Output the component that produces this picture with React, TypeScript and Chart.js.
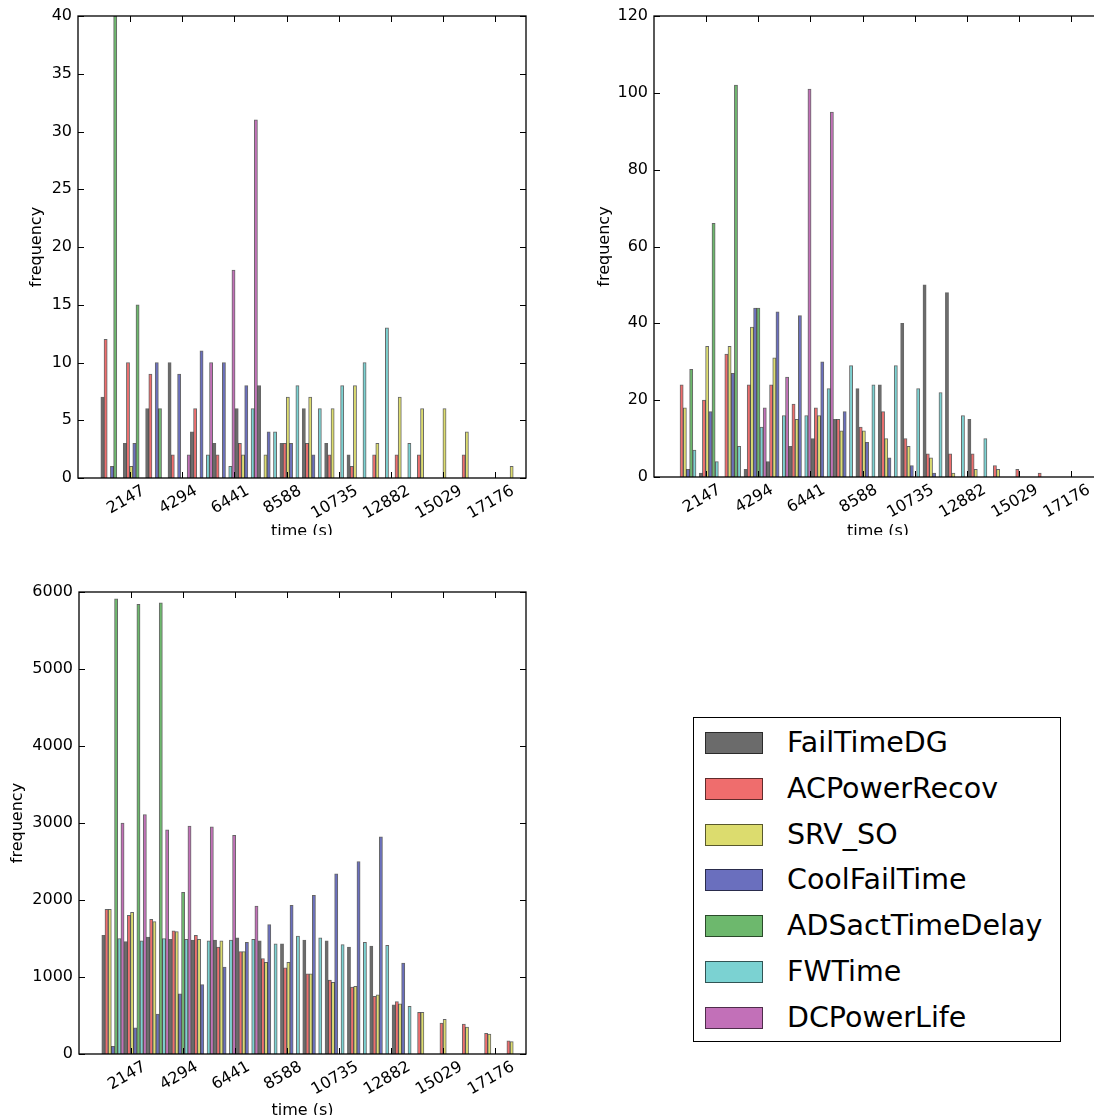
import React, { useEffect, useRef } from "react";
import { Chart, registerables } from "chart.js";

Chart.register(...registerables);

// ---------------- data ----------------
const SERIES_NAMES = [
  "FailTimeDG",
  "ACPowerRecov",
  "SRV_SO",
  "CoolFailTime",
  "ADSactTimeDelay",
  "FWTime",
  "DCPowerLife",
];

const SERIES_COLORS = ["#6b6b6b", "#ef6d6d", "#dcdc6e", "#6a6fbe", "#6db86d", "#7bd2d2", "#c270b8"];

// histogram bin centres (seconds)
const BIN_CENTERS = [
  1401, 2322, 3244, 4166, 5087, 6009, 6930, 7852, 8774, 9695, 10617, 11538, 12460, 13382, 14303, 15225,
  16146, 17068, 17990,
];

const X_TICKS = [2147, 4294, 6441, 8588, 10735, 12882, 15029, 17176];
const X_MAX = 18450;

// panel 1 (top-left)
const P1_FailTimeDG = [7, 3, 6, 10, 4, 3, 6, 8, 3, 6, 3, 2, 0, 0, 0, 0, 0, 0, 0];
const P1_ACPowerRecov = [12, 10, 9, 2, 6, 2, 3, 0, 3, 3, 2, 1, 2, 2, 2, 0, 2, 0, 0];
const P1_SRV_SO = [0, 1, 0, 0, 0, 0, 2, 2, 7, 7, 6, 8, 3, 7, 6, 6, 4, 0, 1];
const P1_CoolFailTime = [1, 3, 10, 9, 11, 10, 8, 4, 3, 2, 0, 0, 0, 0, 0, 0, 0, 0, 0];
const P1_ADSactTimeDelay = [40, 15, 6, 0, 0, 0, 0, 0, 0, 0, 0, 0, 0, 0, 0, 0, 0, 0, 0];
const P1_FWTime = [0, 0, 0, 0, 2, 1, 6, 4, 8, 6, 8, 10, 13, 3, 0, 0, 0, 0, 0];
const P1_DCPowerLife = [0, 0, 0, 2, 10, 18, 31, 0, 0, 0, 0, 0, 0, 0, 0, 0, 0, 0, 0];

// panel 2 (top-right)
const P2_FailTimeDG = [0, 1, 0, 2, 4, 8, 10, 15, 23, 24, 40, 50, 48, 15, 0, 0, 0, 0, 0];
const P2_ACPowerRecov = [24, 20, 32, 24, 24, 19, 18, 15, 13, 17, 10, 6, 6, 6, 3, 2, 1, 0, 0];
const P2_SRV_SO = [18, 34, 34, 39, 31, 15, 16, 12, 12, 10, 8, 5, 1, 2, 2, 0, 0, 0, 0];
const P2_CoolFailTime = [2, 17, 27, 44, 43, 42, 30, 17, 9, 5, 3, 1, 0, 0, 0, 0, 0, 0, 0];
const P2_ADSactTimeDelay = [28, 66, 102, 44, 0, 0, 0, 0, 0, 0, 0, 0, 0, 0, 0, 0, 0, 0, 0];
const P2_FWTime = [7, 4, 8, 13, 16, 16, 23, 29, 24, 29, 23, 22, 16, 10, 0, 0, 0, 0, 0];
const P2_DCPowerLife = [0, 0, 0, 18, 26, 101, 95, 0, 0, 0, 0, 0, 0, 0, 0, 0, 0, 0, 0];

// panel 3 (bottom-left)
const P3_FailTimeDG = [1540, 1460, 1520, 1490, 1480, 1480, 1510, 1470, 1430, 1480, 1470, 1390, 1400, 640, 0, 0, 0, 0, 0];
const P3_ACPowerRecov = [1880, 1800, 1750, 1600, 1540, 1390, 1330, 1240, 1120, 1040, 960, 870, 750, 680, 540, 400, 390, 270, 170];
const P3_SRV_SO = [1880, 1840, 1720, 1590, 1490, 1470, 1330, 1190, 1190, 1040, 930, 880, 770, 650, 540, 450, 350, 260, 160];
const P3_CoolFailTime = [100, 340, 520, 780, 900, 1130, 1450, 1680, 1930, 2060, 2340, 2500, 2820, 1180, 0, 0, 0, 0, 0];
const P3_ADSactTimeDelay = [5910, 5840, 5860, 2100, 0, 0, 0, 0, 0, 0, 0, 0, 0, 0, 0, 0, 0, 0, 0];
const P3_FWTime = [1500, 1470, 1500, 1490, 1470, 1480, 1490, 1430, 1530, 1510, 1420, 1450, 1410, 620, 0, 0, 0, 0, 0];
const P3_DCPowerLife = [3000, 3110, 2910, 2960, 2950, 2840, 1920, 0, 0, 0, 0, 0, 0, 0, 0, 0, 0, 0, 0];

const PANEL1 = [P1_FailTimeDG, P1_ACPowerRecov, P1_SRV_SO, P1_CoolFailTime, P1_ADSactTimeDelay, P1_FWTime, P1_DCPowerLife];
const PANEL2 = [P2_FailTimeDG, P2_ACPowerRecov, P2_SRV_SO, P2_CoolFailTime, P2_ADSactTimeDelay, P2_FWTime, P2_DCPowerLife];
const PANEL3 = [P3_FailTimeDG, P3_ACPowerRecov, P3_SRV_SO, P3_CoolFailTime, P3_ADSactTimeDelay, P3_FWTime, P3_DCPowerLife];

const FONT = "DejaVu Sans";

// ---------------- drawing helpers ----------------
const framePlugin = {
  id: "mplFrame",
  afterDraw(chart: any) {
    const { ctx, chartArea: a, scales } = chart;
    const xs = scales.x;
    const ys = scales.y;
    const TL = 6;
    ctx.save();
    ctx.strokeStyle = "#000";
    ctx.lineWidth = 1;
    const line = (x1: number, y1: number, x2: number, y2: number) => {
      ctx.beginPath();
      ctx.moveTo(x1, y1);
      ctx.lineTo(x2, y2);
      ctx.stroke();
    };
    xs.ticks.forEach((t: any) => {
      const px = Math.round(xs.getPixelForValue(t.value)) + 0.5;
      line(px, a.bottom, px, a.bottom - TL);
      line(px, a.top, px, a.top + TL);
    });
    ys.ticks.forEach((t: any) => {
      const py = Math.round(ys.getPixelForValue(t.value)) + 0.5;
      line(a.left, py, a.left + TL, py);
      line(a.right, py, a.right - TL, py);
    });
    ctx.lineWidth = 1.3;
    ctx.strokeRect(a.left, a.top, a.right - a.left, a.bottom - a.top);

    // rotated x tick labels (rotation=30, box centred under the tick)
    ctx.font = `16px "${FONT}"`;
    ctx.fillStyle = "#000";
    const rot = Math.PI / 6;
    xs.ticks.forEach((t: any) => {
      const label = String(t.value);
      const px = xs.getPixelForValue(t.value);
      const w = ctx.measureText(label).width;
      const h = 18;
      const H = w * Math.sin(rot) + h * Math.cos(rot);
      ctx.save();
      ctx.translate(px - 4, a.bottom + 4 + H / 2);
      ctx.rotate(-rot);
      ctx.textAlign = "center";
      ctx.textBaseline = "middle";
      ctx.fillText(label, 0, 0);
      ctx.restore();
    });
    ctx.restore();
  },
};

type PanelProps = {
  values: number[][];
  width: number;
  height: number;
  area: { left: number; top: number; right: number; bottom: number };
  yMax: number;
  yStep: number;
  yTitlePad: number;
  xTitlePad: number;
};

function HistPanel(p: PanelProps) {
  const ref = useRef<HTMLCanvasElement | null>(null);
  useEffect(() => {
    if (!ref.current) return;
    const chart = new Chart(ref.current, {
      type: "bar",
      data: {
        datasets: SERIES_NAMES.map((name, i) => ({
          label: name,
          data: BIN_CENTERS.map((x, k) => ({ x, y: p.values[i][k] === 0 ? null : p.values[i][k] })),
          backgroundColor: SERIES_COLORS[i],
          borderColor: "rgba(0,0,0,0.6)",
          borderWidth: 1,
          barPercentage: 1,
          categoryPercentage: 1,
        })) as any,
      },
      options: {
        animation: false,
        responsive: false,
        maintainAspectRatio: false,
        devicePixelRatio: 1,
        layout: {
          padding: { left: 0, top: p.area.top, right: p.width - p.area.right, bottom: 0 },
        },
        plugins: { legend: { display: false }, tooltip: { enabled: false } },
        scales: {
          x: {
            type: "linear",
            min: 0,
            max: X_MAX,
            offset: false,
            grid: { display: false, drawTicks: false },
            border: { display: false },
            ticks: { display: false },
            afterBuildTicks: (s: any) => {
              s.ticks = X_TICKS.map((v) => ({ value: v }));
            },
            afterFit: (s: any) => {
              s.height = p.height - p.area.bottom;
            },
            title: {
              display: true,
              text: "time (s)",
              color: "#000",
              font: { family: FONT, size: 16 },
              padding: { top: 0, bottom: p.xTitlePad },
            },
          },
          y: {
            type: "linear",
            min: 0,
            max: p.yMax,
            grid: { display: false, drawTicks: false },
            border: { display: false },
            ticks: {
              stepSize: p.yStep,
              padding: 6,
              color: "#000",
              font: { family: FONT, size: 16 },
              callback: (v: any) => String(v),
            },
            afterFit: (s: any) => {
              s.width = p.area.left;
            },
            title: {
              display: true,
              text: "frequency",
              color: "#000",
              font: { family: FONT, size: 16 },
              padding: { top: p.yTitlePad, bottom: 0 },
            },
          },
        } as any,
      },
      plugins: [framePlugin],
    });
    return () => chart.destroy();
  }, []);
  return <canvas ref={ref} width={p.width} height={p.height} style={{ width: p.width, height: p.height, display: "block" }} />;
}

function Legend() {
  return (
    <div
      style={{
        position: "absolute",
        left: 693,
        top: 717,
        width: 368,
        height: 325,
        boxSizing: "border-box",
        border: "1.5px solid #000",
        background: "#fff",
      }}
    >
      {SERIES_NAMES.map((name, i) => (
        <div
          key={name}
          style={{
            position: "absolute",
            left: 0,
            top: 10 + i * 45.8,
            height: 30,
            width: "100%",
          }}
        >
          <div
            style={{
              position: "absolute",
              left: 11,
              top: 4,
              width: 58,
              height: 22,
              boxSizing: "border-box",
              background: SERIES_COLORS[i],
              border: "1px solid rgba(0,0,0,0.6)",
            }}
          />
          <div
            style={{
              position: "absolute",
              left: 93,
              top: 0,
              height: 30,
              lineHeight: "30px",
              fontFamily: FONT,
              fontSize: 28.5,
              color: "#000",
              whiteSpace: "nowrap",
            }}
          >
            {name}
          </div>
        </div>
      ))}
    </div>
  );
}

export default function App() {
  return (
    <div
      style={{
        position: "fixed",
        left: 0,
        top: 0,
        width: 1094,
        height: 1115,
        overflow: "hidden",
        background: "#fff",
      }}
    >
      <div style={{ position: "absolute", left: 0, top: 0, width: 560, height: 535, overflow: "hidden" }}>
        <HistPanel
          values={PANEL1}
          width={560}
          height={560}
          area={{ left: 78, top: 16, right: 526, bottom: 478 }}
          yMax={40}
          yStep={5}
          yTitlePad={27.4}
          xTitlePad={18.1}
        />
      </div>
      <div style={{ position: "absolute", left: 576, top: 0, width: 518, height: 535, overflow: "hidden" }}>
        <HistPanel
          values={PANEL2}
          width={560}
          height={560}
          area={{ left: 78, top: 16, right: 526, bottom: 477 }}
          yMax={120}
          yStep={20}
          yTitlePad={19.4}
          xTitlePad={18.1}
        />
      </div>
      <div style={{ position: "absolute", left: 0, top: 560, width: 560, height: 555, overflow: "hidden" }}>
        <HistPanel
          values={PANEL3}
          width={560}
          height={580}
          area={{ left: 79, top: 32, right: 526, bottom: 494 }}
          yMax={6000}
          yStep={1000}
          yTitlePad={8.4}
          xTitlePad={19.5}
        />
      </div>
      <Legend />
    </div>
  );
}
